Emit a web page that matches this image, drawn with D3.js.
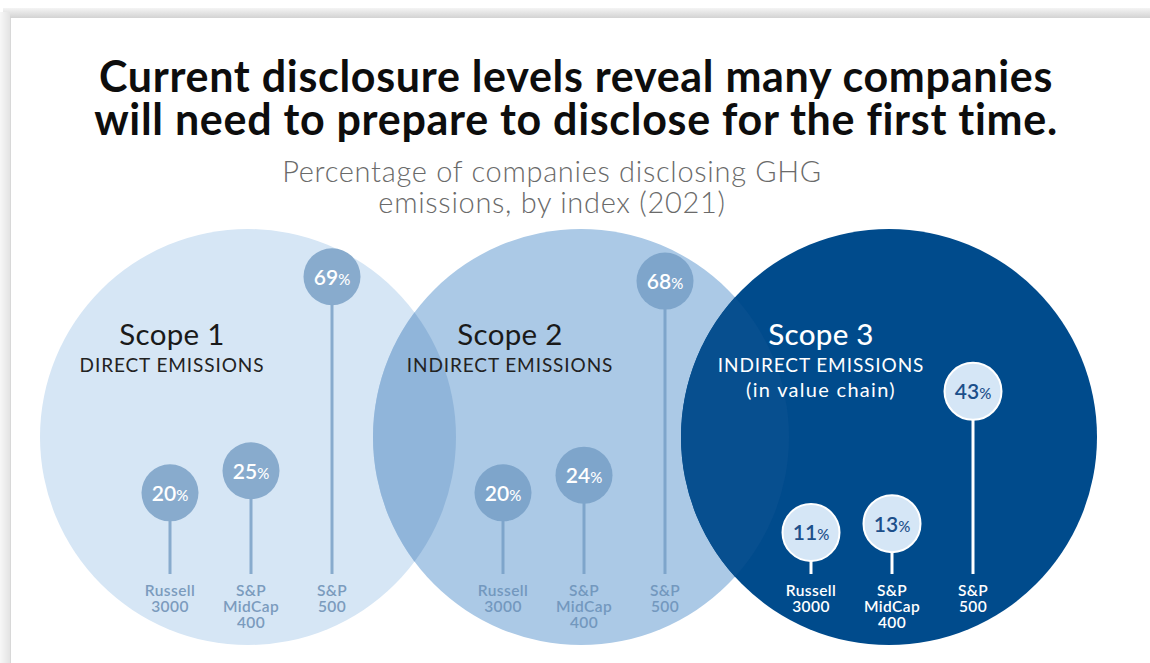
<!DOCTYPE html>
<html>
<head>
<meta charset="utf-8">
<script src="https://cdn.jsdelivr.net/npm/d3@7"></script>
<style>
  html, body { margin: 0; padding: 0; background: #fff; }
  svg { display: block; font-family: Lato, "Open Sans", sans-serif; }
</style>
</head>
<body>
<svg id="chart" width="1150" height="663"></svg>
<script>
// data
var titleLines = ["Current disclosure levels reveal many companies",
                  "will need to prepare to disclose for the first time."];
var subtitleLines = ["Percentage of companies disclosing GHG",
                     "emissions, by index (2021)"];
var scopes = ["Scope 1", "Scope 2", "Scope 3"];
var scopeNotes = [["DIRECT EMISSIONS"], ["INDIRECT EMISSIONS"],
                  ["INDIRECT EMISSIONS", "(in value chain)"]];
var indices = ["Russell 3000", "S&P MidCap 400", "S&P 500"];
var indexLines = [["Russell", "3000"], ["S&P", "MidCap", "400"], ["S&P", "500"]];
var scope1 = [20, 25, 69];
var scope2 = [20, 24, 68];
var scope3 = [11, 13, 43];
var values = [scope1, scope2, scope3];

var svg = d3.select("#chart");
var W = 1150, H = 663;

// screenshot frame: shadow band on top and left
var defs = svg.append("defs");
var gTop = defs.append("linearGradient").attr("id", "topShade")
  .attr("x1", 0).attr("y1", 0).attr("x2", 0).attr("y2", 1);
gTop.append("stop").attr("offset", "0%").attr("stop-color", "#f4f4f4");
gTop.append("stop").attr("offset", "100%").attr("stop-color", "#cfcfcf");
var gLeft = defs.append("linearGradient").attr("id", "leftShade")
  .attr("x1", 0).attr("y1", 0).attr("x2", 1).attr("y2", 0);
gLeft.append("stop").attr("offset", "0%").attr("stop-color", "#f7f7f7");
gLeft.append("stop").attr("offset", "100%").attr("stop-color", "#e3e3e3");

svg.append("rect").attr("x", 3).attr("y", 8).attr("width", W).attr("height", 11)
  .attr("fill", "url(#topShade)");
svg.append("rect").attr("x", 0).attr("y", 12).attr("width", 10).attr("height", H)
  .attr("fill", "url(#leftShade)");
svg.append("rect").attr("x", 10).attr("y", 18).attr("width", W).attr("height", H)
  .attr("fill", "#fff");
svg.append("line").attr("x1", 10.5).attr("x2", 10.5).attr("y1", 18).attr("y2", H)
  .attr("stroke", "#d8d8d8");
svg.append("text").attr("x", 19).attr("y", -3).attr("font-size", 18)
  .attr("fill", "#111").text("y");

// title + subtitle
svg.append("g").selectAll("text").data(titleLines).join("text")
  .attr("x", 576).attr("y", (d, i) => 92 + i * 43)
  .attr("text-anchor", "middle")
  .attr("font-size", 43).attr("font-weight", 700).attr("fill", "#0d0d0d")
  .attr("letter-spacing", 0.7)
  .text(d => d);

svg.append("g").selectAll("text").data(subtitleLines).join("text")
  .attr("x", 552).attr("y", (d, i) => 182 + i * 31)
  .attr("text-anchor", "middle")
  .attr("font-size", 29).attr("font-weight", 300).attr("fill", "#6a6a6a")
  .attr("letter-spacing", 0.7)
  .text(d => d);

// layout
var R = 208;
var cx = d3.scaleOrdinal().domain(scopes).range([248, 581, 889]);
var headShift = [-76, -71, -68];
var cy = 437;
var y = d3.scaleLinear().domain([0, 100]).range([581, 140]);
var stemBottom = 574;

var circleFill = ["#d6e6f5", "#abc9e6", "#004b8c"];
var bubbleFill = ["#88abcd", "#7ea5cb", "#d5e6f6"];
var bubbleText = ["#fff", "#fff", "#1c4f8a"];
var stemColor = ["#88abcd", "#7ea5cb", "#fff"];
var labelColor = ["#7b9bbd", "#7398be", "#fff"];
var noteColor = ["#222", "#222", "#fff"];

scopes.forEach(function(s, i) {
  defs.append("clipPath").attr("id", "clip-" + i)
    .append("circle").attr("cx", cx(s)).attr("cy", cy).attr("r", R);
});

var big = svg.append("g");
big.selectAll("circle.scope").data(scopes).join("circle")
  .attr("class", "scope")
  .attr("cx", d => cx(d)).attr("cy", cy).attr("r", R)
  .attr("fill", (d, i) => circleFill[i]);

// overlaps
big.append("circle").attr("cx", cx(scopes[1])).attr("cy", cy).attr("r", R)
  .attr("clip-path", "url(#clip-0)").attr("fill", "#90b5da");
big.append("circle").attr("cx", cx(scopes[2])).attr("cy", cy).attr("r", R)
  .attr("clip-path", "url(#clip-1)").attr("fill", "#074f8f");

// scope headings
scopes.forEach(function(s, si) {
  var g = svg.append("g").attr("transform", "translate(" + (cx(s) + headShift[si]) + ",0)");
  g.append("text").attr("y", 345).attr("text-anchor", "middle")
    .attr("font-size", 29.5).attr("fill", si == 2 ? "#fff" : "#1a1a1a")
    .attr("font-weight", si == 2 ? 500 : 400).attr("letter-spacing", 0.3)
    .text(s);
  g.selectAll("text.note").data(scopeNotes[si]).join("text")
    .attr("class", "note")
    .attr("y", (d, i) => 372 + i * 25).attr("text-anchor", "middle")
    .attr("font-size", (d, i) => i ? 20 : 19).attr("fill", noteColor[si])
    .attr("letter-spacing", (d, i) => i ? 1.3 : 0.9)
    .text(d => d);
});

// lollipops
scopes.forEach(function(s, si) {
  var x = d3.scalePoint().domain(indices).range([cx(s) - 78, cx(s) + 84]);
  var g = svg.append("g");
  var row = indices.map((name, i) => ({ name: name, v: values[si][i], lines: indexLines[i] }));

  g.selectAll("line").data(row).join("line")
    .attr("x1", d => x(d.name)).attr("x2", d => x(d.name))
    .attr("y1", d => y(d.v)).attr("y2", stemBottom)
    .attr("stroke", stemColor[si]).attr("stroke-width", 3);

  g.selectAll("circle").data(row).join("circle")
    .attr("cx", d => x(d.name)).attr("cy", d => y(d.v)).attr("r", 28.5)
    .attr("fill", bubbleFill[si])
    .attr("stroke", si == 2 ? "#fff" : "none").attr("stroke-width", 2);

  var t = g.selectAll("text.pct").data(row).join("text")
    .attr("class", "pct")
    .attr("x", d => x(d.name)).attr("y", d => y(d.v) + 8)
    .attr("text-anchor", "middle").attr("fill", bubbleText[si]);
  t.append("tspan").attr("font-size", 21).attr("font-weight", 600).text(d => d.v);
  t.append("tspan").attr("font-size", 15).attr("font-weight", 500).text("%");

  g.selectAll("text.idx").data(row).join("text")
    .attr("class", "idx")
    .attr("x", d => x(d.name)).attr("y", 596)
    .attr("text-anchor", "middle")
    .attr("font-size", 15.5).attr("font-weight", 600).attr("fill", labelColor[si])
    .attr("letter-spacing", 0.4)
    .selectAll("tspan").data(d => d.lines).join("tspan")
      .attr("x", function() { return d3.select(this.parentNode).attr("x"); })
      .attr("dy", (d, i) => i ? 16 : 0)
      .text(d => d);
});
</script>
</body>
</html>
